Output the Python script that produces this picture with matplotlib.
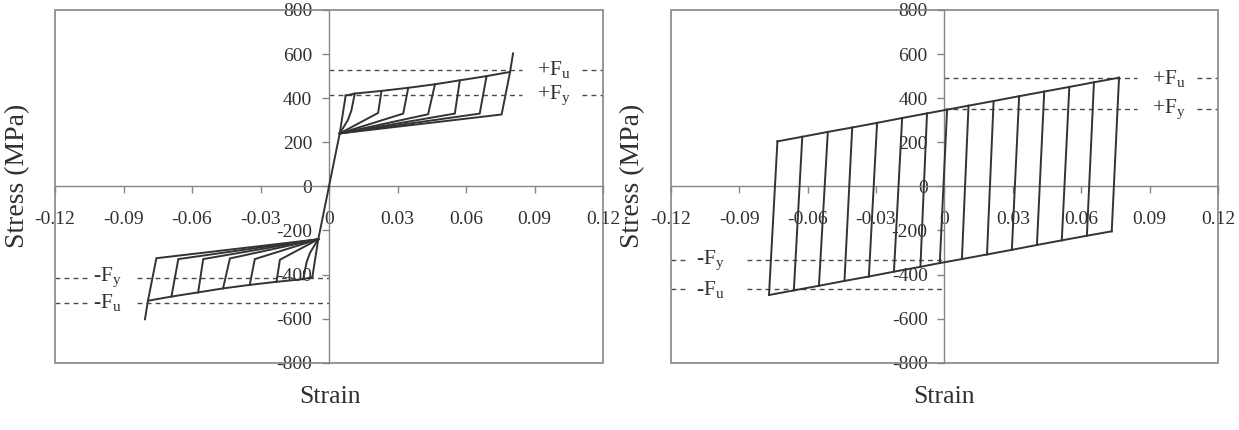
import matplotlib
matplotlib.use("Agg")
import matplotlib.pyplot as plt
from matplotlib.patches import Rectangle

plt.rcParams['font.family'] = ['Liberation Serif', 'DejaVu Serif']
plt.rcParams['mathtext.fontset'] = 'custom'
plt.rcParams['mathtext.rm'] = 'Liberation Serif'
plt.rcParams['mathtext.it'] = 'Liberation Serif:italic'
plt.rcParams['axes.unicode_minus'] = False

# ---------------- data ----------------
x_ticks = [-0.12, -0.09, -0.06, -0.03, 0, 0.03, 0.06, 0.09, 0.12]
x_tick_labels = ['-0.12', '-0.09', '-0.06', '-0.03', '0', '0.03', '0.06', '0.09', '0.12']
y_ticks = [-800, -600, -400, -200, 0, 200, 400, 600, 800]
y_tick_labels = ['-800', '-600', '-400', '-200', '0', '200', '400', '600', '800']

# Left chart (positive half; negative half is point-symmetric)
left_elastic_x = [0.0, 0.0047, 0.0073]
left_elastic_y = [0, 240, 412]
left_up_x = [0.0113, 0.0230, 0.0347, 0.0464, 0.0573, 0.0690, 0.0793]
left_up_y = [421, 433, 447, 463, 481, 500, 519]
left_lo_x = [0.0098, 0.0215, 0.0325, 0.0434, 0.0551, 0.0660, 0.0756]
left_lo_y = [344, 333, 330, 327, 330, 330, 326]
left_first_bend = (0.0083, 301)
left_tail = (0.0806, 603)
left_Fu, left_Fy = 528, 414

# Right chart
right_top_x = [-0.0732, -0.0623, -0.0511, -0.0404, -0.0295, -0.0185, -0.0076, 0.0012,
               0.0106, 0.0216, 0.0328, 0.0438, 0.0548, 0.0656, 0.0766]
right_top_y = [204, 225, 247, 267, 288, 310, 331, 348, 366, 387, 409, 430, 451, 472, 493]
right_bot_x = [-0.0769, -0.0660, -0.0550, -0.0438, -0.0331, -0.0221, -0.0105, -0.0020,
               0.0077, 0.0187, 0.0296, 0.0406, 0.0515, 0.0625, 0.0734]
right_bot_y = [-493, -472, -451, -429, -409, -387, -365, -348, -330, -309, -288, -266,
               -245, -224, -204]
right_Fu, right_Fy, right_nFy, right_nFu = 490, 351, -334, -467

LINE = '#333333'
GRID = '#858585'
TXT = '#303030'

fig = plt.figure(figsize=(12.39, 4.30), dpi=100)
axL = fig.add_axes([55 / 1239, 1 - 362.7 / 430, (603 - 55) / 1239, (362.7 - 10) / 430])
axR = fig.add_axes([670.7 / 1239, 1 - 362.7 / 430, (1218 - 670.7) / 1239, (362.7 - 10) / 430])


def style(ax):
    ax.set_xlim(-0.12, 0.12)
    ax.set_ylim(-800, 800)
    for s in ['top', 'right']:
        ax.spines[s].set_visible(False)
    ax.spines['left'].set_position(('data', 0))
    ax.spines['bottom'].set_position(('data', 0))
    for s in ['left', 'bottom']:
        ax.spines[s].set_color(GRID)
        ax.spines[s].set_linewidth(1.0)
    ax.add_patch(Rectangle((0, 0), 1, 1, transform=ax.transAxes, fill=False,
                           edgecolor=GRID, lw=1.2, clip_on=False, zorder=5))
    ax.set_xticks(x_ticks)
    ax.set_xticklabels(x_tick_labels)
    ax.set_yticks(y_ticks)
    ax.set_yticklabels(y_tick_labels)
    ax.tick_params(axis='x', direction='out', length=5, width=1, color=GRID,
                   labelsize=14, labelcolor=TXT, pad=13)
    ax.tick_params(axis='y', direction='out', length=5, width=1, color=GRID,
                   labelsize=14, labelcolor=TXT, pad=7)
    ax.patch.set_alpha(0)


style(axL)
style(axR)

kw = dict(color=LINE, lw=1.4, solid_joinstyle='miter', zorder=3)
dash = dict(color='#4a4a4a', lw=1.0, linestyle=(0, (3.5, 3)), zorder=2)
FS = 15.5

# ----- left chart -----
for sgn in (1, -1):
    conv = (left_elastic_x[1], left_elastic_y[1])
    axL.plot([sgn * v for v in left_elastic_x], [sgn * v for v in left_elastic_y], **kw)
    ex = [left_elastic_x[2]] + left_up_x
    ey = [left_elastic_y[2]] + left_up_y
    axL.plot([sgn * v for v in ex], [sgn * v for v in ey], **kw)
    for i, (lx, ly, ux, uy) in enumerate(zip(left_lo_x, left_lo_y, left_up_x, left_up_y)):
        px = [conv[0]]
        py = [conv[1]]
        if i == 0:
            px.append(left_first_bend[0])
            py.append(left_first_bend[1])
        px += [lx, ux]
        py += [ly, uy]
        if i == len(left_lo_x) - 1:
            px.append(left_tail[0])
            py.append(left_tail[1])
        axL.plot([sgn * v for v in px], [sgn * v for v in py], **kw)

axL.plot([0, 0.0845], [left_Fu, left_Fu], **dash)
axL.plot([0.1110, 0.12], [left_Fu, left_Fu], **dash)
axL.plot([0, 0.0845], [left_Fy, left_Fy], **dash)
axL.plot([0.1110, 0.12], [left_Fy, left_Fy], **dash)
axL.plot([-0.12, -0.1055], [-left_Fy, -left_Fy], **dash)
axL.plot([-0.0840, 0], [-left_Fy, -left_Fy], **dash)
axL.plot([-0.12, -0.1055], [-left_Fu, -left_Fu], **dash)
axL.plot([-0.0840, 0], [-left_Fu, -left_Fu], **dash)
axL.text(0.0910, left_Fu, r'+F$_\mathregular{u}$', fontsize=FS, color=TXT, va='center', ha='left')
axL.text(0.0910, left_Fy, r'+F$_\mathregular{y}$', fontsize=FS, color=TXT, va='center', ha='left')
axL.text(-0.1035, -left_Fy, r'-F$_\mathregular{y}$', fontsize=FS, color=TXT, va='center', ha='left')
axL.text(-0.1035, -left_Fu, r'-F$_\mathregular{u}$', fontsize=FS, color=TXT, va='center', ha='left')

# ----- right chart -----
axR.plot(right_top_x, right_top_y, **kw)
axR.plot(right_bot_x, right_bot_y, **kw)
for tx, ty, bx, by in zip(right_top_x, right_top_y, right_bot_x, right_bot_y):
    axR.plot([bx, tx], [by, ty], **kw)

axR.plot([0, 0.0845], [right_Fu, right_Fu], **dash)
axR.plot([0.1110, 0.12], [right_Fu, right_Fu], **dash)
axR.plot([0, 0.0845], [right_Fy, right_Fy], **dash)
axR.plot([0.1110, 0.12], [right_Fy, right_Fy], **dash)
axR.plot([-0.12, -0.1130], [right_nFy, right_nFy], **dash)
axR.plot([-0.0865, 0], [right_nFy, right_nFy], **dash)
axR.plot([-0.12, -0.1130], [right_nFu, right_nFu], **dash)
axR.plot([-0.0865, 0], [right_nFu, right_nFu], **dash)
axR.text(0.0910, right_Fu, r'+F$_\mathregular{u}$', fontsize=FS, color=TXT, va='center', ha='left')
axR.text(0.0910, right_Fy, r'+F$_\mathregular{y}$', fontsize=FS, color=TXT, va='center', ha='left')
axR.text(-0.1090, right_nFy, r'-F$_\mathregular{y}$', fontsize=FS, color=TXT, va='center', ha='left')
axR.text(-0.1090, right_nFu, r'-F$_\mathregular{u}$', fontsize=FS, color=TXT, va='center', ha='left')

# axis titles
fig.text(330 / 1239, 1 - 397 / 430, 'Strain', fontsize=18.5, color=TXT, ha='center', va='center')
fig.text(944 / 1239, 1 - 397 / 430, 'Strain', fontsize=18.5, color=TXT, ha='center', va='center')
fig.text(18 / 1239, 1 - 176 / 430, 'Stress (MPa)', fontsize=20, color=TXT, ha='center',
         va='center', rotation=90)
fig.text(633 / 1239, 1 - 176 / 430, 'Stress (MPa)', fontsize=20, color=TXT, ha='center',
         va='center', rotation=90)

fig.savefig('out.png', dpi=100, facecolor='white')
